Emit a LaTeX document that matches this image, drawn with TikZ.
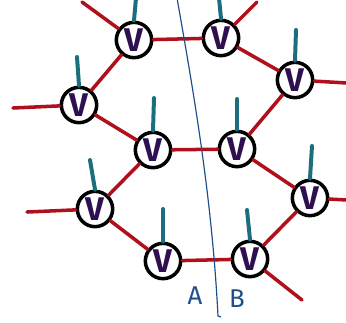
\documentclass[tikz,border=0pt]{standalone}
\usepackage{fontspec}
\setsansfont{Fira Sans}
\usetikzlibrary{calc}
\definecolor{bondred}{HTML}{B0101C}
\definecolor{legteal}{HTML}{1B6E7E}
\definecolor{vpurple}{HTML}{2E1050}
\definecolor{cutblue}{HTML}{1F4F8A}

\begin{document}
\begin{tikzpicture}[
  x=0.03cm, y=-0.03cm,
  vertex/.style={circle,draw=black,line width=3pt,fill=white,minimum size=1.06cm,inner sep=0pt,
    font=\sffamily\bfseries\fontsize{28}{28}\selectfont,text=vpurple},
  bond/.style={line width=3pt,draw=bondred,line cap=round},
  leg/.style={line width=3.4pt,draw=legteal,line cap=round},
  cut/.style={line width=1pt,draw=cutblue},
  every label/.style={font=\sffamily\fontsize{22}{22}\selectfont,text=cutblue}
]
  \useasboundingbox (0,0) rectangle (346,322);

  % vertices of the lattice
  \node[vertex] (v1) at (134,40) {V};
  \node[vertex] (v2) at (221,38) {V};
  \node[vertex] (v3) at (295,80) {V};
  \node[vertex] (v4) at (79,105) {V};
  \node[vertex] (v5) at (153,150) {V};
  \node[vertex] (v6) at (237,149) {V};
  \node[vertex] (v7) at (95,209) {V};
  \node[vertex] (v8) at (310,198) {V};
  \node[vertex] (v9) at (163,261) {V};
  \node[vertex] (v10) at (250,259) {V};

  % open bond ends
  \coordinate (e1) at (82,2);
  \coordinate (e2) at (257,2);
  \coordinate (e3) at (347,83);
  \coordinate (e4) at (13,108);
  \coordinate (e5) at (27,212);
  \coordinate (e6) at (347,200);
  \coordinate (e7) at (302,300);

  \draw[bond] (e1) -- (v1);
  \draw[bond] (v1) -- (v2);
  \draw[bond] (v2) -- (e2);
  \draw[bond] (v2) -- (v3);
  \draw[bond] (v3) -- (e3);
  \draw[bond] (e4) -- (v4);
  \draw[bond] (v4) -- (v1);
  \draw[bond] (v4) -- (v5);
  \draw[bond] (v5) -- (v6);
  \draw[bond] (v6) -- (v3);
  \draw[bond] (v5) -- (v7);
  \draw[bond] (v6) -- (v8);
  \draw[bond] (e5) -- (v7);
  \draw[bond] (v7) -- (v9);
  \draw[bond] (v9) -- (v10);
  \draw[bond] (v10) -- (v8);
  \draw[bond] (v8) -- (e6);
  \draw[bond] (v10) -- (e7);

  % physical legs
  \coordinate (p1) at (136,-2);
  \coordinate (p2) at (219,-2);
  \coordinate (p3) at (296,30);
  \coordinate (p4) at (77,57);
  \coordinate (p5) at (154,98);
  \coordinate (p6) at (237,99);
  \coordinate (p7) at (90,160);
  \coordinate (p8) at (312,146);
  \coordinate (p9) at (163,209);
  \coordinate (p10) at (247,210);
  \foreach \i in {1,...,10}
    \draw[leg] (v\i.north) -- (p\i);

  % bipartition
  \coordinate (c1) at (177,-2);
  \coordinate (c2) at (218,316);
  \draw[cut] (c1) .. controls (195,100) and (212,200) .. (c2) -- ++(3,1);
  \node[label={[name=la]center:A}] at (195,296) {};
  \node[label={[name=lb]center:B}] at (237,299) {};
\end{tikzpicture}
\end{document}
